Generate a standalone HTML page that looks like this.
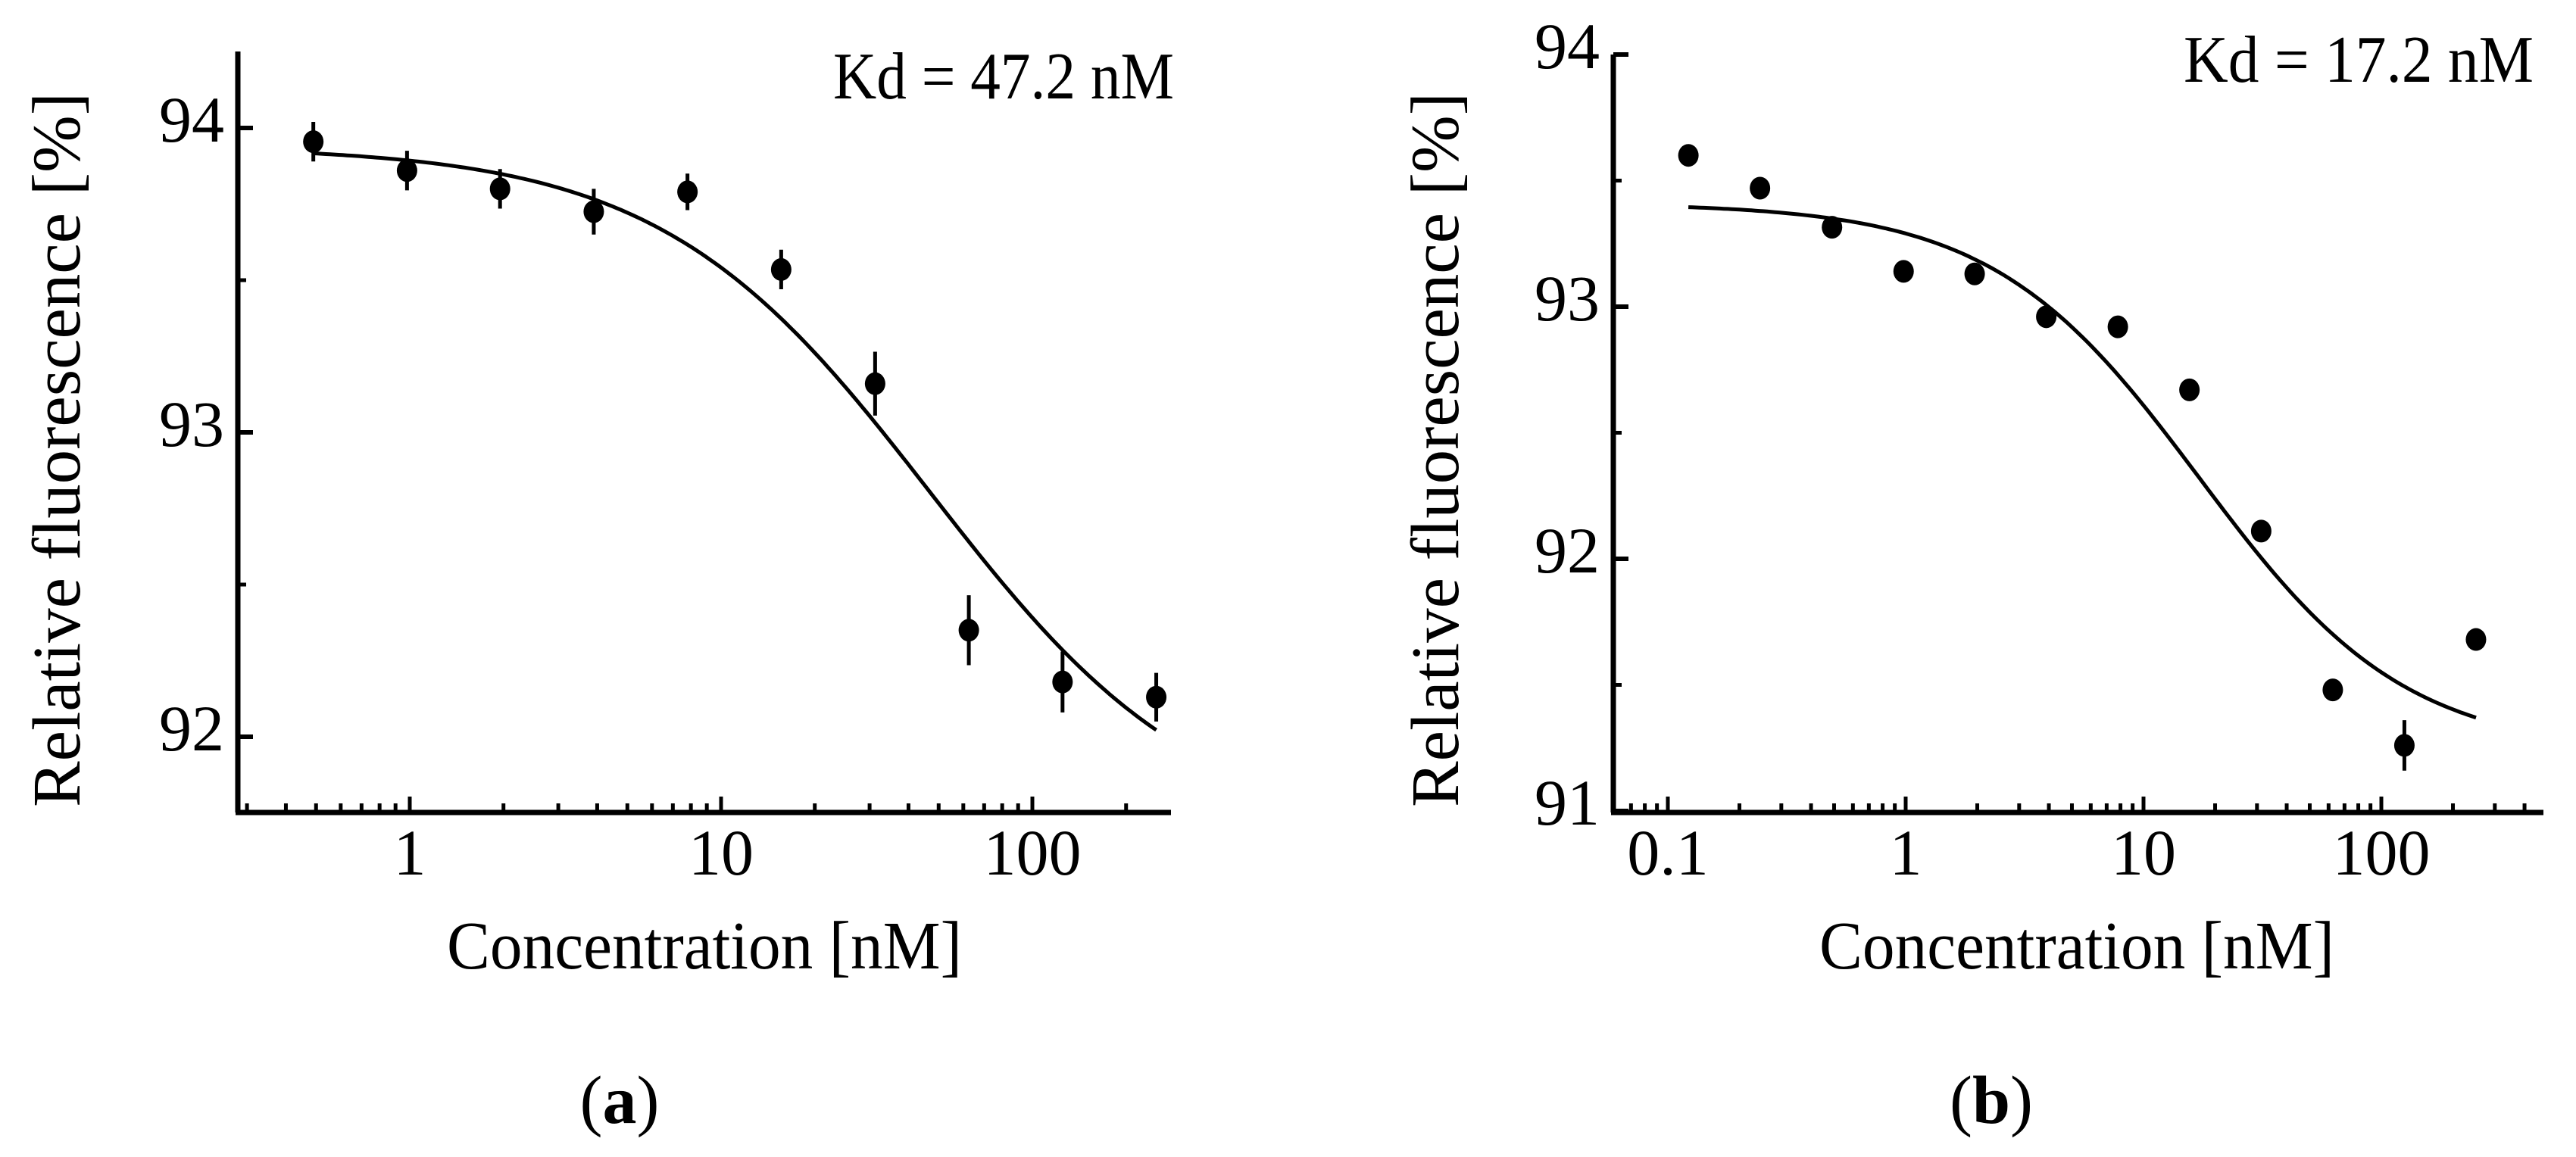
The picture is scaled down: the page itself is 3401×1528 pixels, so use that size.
<!DOCTYPE html>
<html>
<head>
<meta charset="utf-8">
<style>
html,body{margin:0;padding:0;background:#fff;}
svg{display:block;}
text{font-family:"Liberation Serif",serif;fill:#000;}
</style>
</head>
<body>
<svg id="fig" width="3401" height="1528" viewBox="0 0 3401 1528" xmlns="http://www.w3.org/2000/svg"></svg>
<script>
// ---- data: panel a ----
const concA = [0.49, 0.98, 1.95, 3.9, 7.8, 15.6, 31.25, 62.5, 125, 250];
const valA = [93.955, 93.86, 93.80, 93.725, 93.79, 93.535, 93.16, 92.35, 92.18, 92.13];
const errA = [0.065, 0.065, 0.065, 0.075, 0.06, 0.065, 0.105, 0.115, 0.1, 0.08];
const fitA = [93.94, 91.66];
const kdA = [47.2];
const yTicksA = [92, 93, 94];
const xTicksA = [1, 10, 100];
// ---- data: panel b ----
const concB = [0.122, 0.244, 0.49, 0.98, 1.95, 3.9, 7.8, 15.6, 31.25, 62.5, 125, 250];
const valB = [93.60, 93.47, 93.315, 93.14, 93.13, 92.96, 92.92, 92.67, 92.11, 91.48, 91.26, 91.68];
const errB = [0.02, 0.02, 0.02, 0.02, 0.02, 0.02, 0.02, 0.02, 0.02, 0.02, 0.1, 0.02];
const fitB = [93.41, 91.23];
const kdB = [17.2];
const yTicksB = [91, 92, 93, 94];
const xTicksB = [0.1, 1, 10, 100];

const NS = "http://www.w3.org/2000/svg";
const svg = document.getElementById('fig');
function mk(tag, attrs, parent){
  const e = document.createElementNS(NS, tag);
  for (const k in attrs) e.setAttribute(k, attrs[k]);
  (parent||svg).appendChild(e);
  return e;
}

function panel(cfg){
  const g = mk('g', {});
  
  
  const X = c => cfg.x1 + cfg.dec * Math.log10(c);
  const Y = v => cfg.yTop + (cfg.vTop - v) * cfg.unit;
  // axes
  const yax = mk('line', {x1:cfg.ax, y1:cfg.axTop, x2:cfg.ax, y2:cfg.axBot, stroke:'#000','stroke-width':7}, g);
  
  
  const xax = mk('line', {x1:cfg.ax-3, y1:cfg.axBot, x2:cfg.axRight, y2:cfg.axBot, stroke:'#000','stroke-width':7}, g);
  
  
  // y ticks
  cfg.yTicks.forEach((v,i) => {
    const y = Y(v);
    const t = mk('line', {x1:cfg.ax, y1:y, x2:cfg.ax+20, y2:y, stroke:'#000','stroke-width':6}, g);
    
    
    const lb = mk('text', {x:cfg.ax-18, y:y+18, 'font-size':86, 'text-anchor':'end'}, g);
    lb.textContent = String(v);
    
    
    if (i < cfg.yTicks.length-1) {
      const ym = Y(v+0.5);
      const m = mk('line', {x1:cfg.ax, y1:ym, x2:cfg.ax+11, y2:ym, stroke:'#000','stroke-width':5}, g);
      
      
    }
  });
  // x minor ticks
  for (let d = -3; d <= 3; d++) {
    for (let k = 2; k <= 9; k++) {
      const c = k * Math.pow(10, d);
      const x = X(c);
      if (x > cfg.ax + 5 && x < cfg.axRight - 3) {
        const m = mk('line', {x1:x, y1:cfg.axBot, x2:x, y2:cfg.axBot-12, stroke:'#000','stroke-width':5}, g);
        
        
      }
    }
  }
  cfg.xTicks.forEach(c => {
    const x = X(c);
    const t = mk('line', {x1:x, y1:cfg.axBot, x2:x, y2:cfg.axBot-21, stroke:'#000','stroke-width':5}, g);
    
    
    const lb = mk('text', {x:x, y:1155, 'font-size':86, 'text-anchor':'middle'}, g);
    lb.textContent = String(c);
    
    
  });
  // fit curve
  const n = 200, lo = Math.log10(cfg.conc[0]), hi = Math.log10(cfg.conc[cfg.conc.length-1]);
  let d = '';
  for (let i = 0; i <= n; i++) {
    const c = Math.pow(10, lo + (hi-lo)*i/n);
    const v = cfg.fit[1] + (cfg.fit[0]-cfg.fit[1]) / (1 + c/cfg.kd[0]);
    d += (i ? 'L' : 'M') + X(c).toFixed(1) + ' ' + Y(v).toFixed(1);
  }
  const p = mk('path', {d:d, fill:'none', stroke:'#000','stroke-width':5}, g);
  
  
  // points + error bars
  cfg.conc.forEach((c,i) => {
    const x = X(c), y = Y(cfg.val[i]), e = cfg.err[i]*cfg.unit;
    const eb = mk('line', {x1:x, y1:y-e, x2:x, y2:y+e, stroke:'#000','stroke-width':5}, g);
    
    
    const pt = mk('ellipse', {cx:x, cy:y, rx:13.5, ry:15, fill:'#000'}, g);
    
    
  });
  // labels
  const kd = mk('text', {x:cfg.kdX, y:cfg.kdY, 'font-size':88, textLength:cfg.kdW, lengthAdjust:'spacingAndGlyphs'}, g);
  kd.textContent = 'Kd = ' + cfg.kd[0] + ' nM';
  
  
  const yl = mk('text', {x:0, y:0, 'font-size':90, 'text-anchor':'middle', textLength:944, lengthAdjust:'spacingAndGlyphs', transform:'translate('+cfg.ylX+',594) rotate(-90)'}, g);
  yl.textContent = 'Relative fluorescence [%]';
  
  
  const xl = mk('text', {x:cfg.xlX, y:1279, 'font-size':90, 'text-anchor':'middle', textLength:680, lengthAdjust:'spacingAndGlyphs'}, g);
  xl.textContent = 'Concentration [nM]';
  
  
  const pl = mk('text', {x:cfg.plX, y:1483, 'font-size':90, 'text-anchor':'middle'}, g);
  const t1 = mk('tspan', {}, pl); t1.textContent = '(';
  const t2 = mk('tspan', {'font-weight':'bold'}, pl); t2.textContent = cfg.letter;
  const t3 = mk('tspan', {}, pl); t3.textContent = ')';
  
  
}

panel({name:'panel-a', conc:concA, val:valA, err:errA, fit:fitA, kd:kdA, yTicks:yTicksA, xTicks:xTicksA,
  x1:541, dec:411, yTop:169, vTop:94, unit:402, ax:314, axTop:68, axBot:1073, axRight:1546,
  kdX:1100, kdY:130, kdW:450, ylX:105, xlX:930, plX:818, letter:'a'});
panel({name:'panel-b', conc:concB, val:valB, err:errB, fit:fitB, kd:kdB, yTicks:yTicksB, xTicks:xTicksB,
  x1:2516, dec:314, yTop:72, vTop:94, unit:333, ax:2130, axTop:72, axBot:1073, axRight:3358,
  kdX:2883, kdY:108, kdW:462, ylX:1925, xlX:2742, plX:2629, letter:'b'});
</script>
</body>
</html>
